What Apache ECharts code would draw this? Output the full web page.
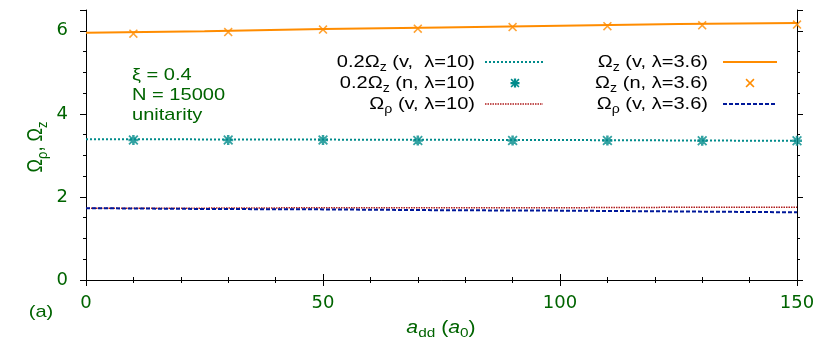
<!DOCTYPE html>
<html>
<head>
<meta charset="utf-8">
<script src="https://cdn.jsdelivr.net/npm/echarts@6/dist/echarts.min.js"></script>
<style>
    html, body { margin: 0; padding: 0; background: #fff; }
    #chart { width: 830px; height: 356px; }
</style>
</head>
<body>
<div id="chart"></div>
<script>
// lines (v) are read at these a_dd values, points (n) at the others
const xLine = [0, 25, 50, 75, 100, 125, 150];
const xPoints = [10, 30, 50, 70, 90, 110, 130, 150];

const tealLine = [3.39, 3.385, 3.38, 3.375, 3.37, 3.36, 3.35];
const tealPoints = [3.37, 3.37, 3.37, 3.36, 3.36, 3.36, 3.35, 3.35];
const redLine = [1.73, 1.73, 1.74, 1.74, 1.74, 1.75, 1.75];
const orangeLine = [5.95, 5.99, 6.04, 6.08, 6.12, 6.16, 6.19];
const orangePoints = [5.93, 5.97, 6.03, 6.05, 6.09, 6.11, 6.13, 6.15];
const blueLine = [1.73, 1.71, 1.70, 1.68, 1.67, 1.65, 1.63];

const xTicks = [0, 50, 100, 150];
const yTicks = [0, 2, 4, 6];

const green = '#006400';
const teal = '#008b8b';
const orange = '#ff8c00';
const red = '#b01c1c';
const blue = '#00189a';
const font = '"Liberation Sans", Arial, sans-serif';

const crossPath = 'path://M0,1L1,0L4,3L7,0L8,1L5,4L8,7L7,8L4,5L1,8L0,7L3,4Z';
const starPath = 'path://M0,1L1,0L4,3L7,0L8,1L5,4L8,7L7,8L4,5L1,8L0,7L3,4Z' +
    'M3,0L5,0L5,3L8,3L8,5L5,5L5,8L3,8L3,5L0,5L0,3L3,3Z';

function pairs(xs, ys) {
    return xs.map((x, i) => [x, ys[i]]);
}

function shapePoints(pts, cx, cy, size) {
    const k = size / 8;
    return pts.map(p => [cx + (p[0] - 4) * k, cy + (p[1] - 4) * k]);
}

const crossPts = [[0,1],[1,0],[4,3],[7,0],[8,1],[5,4],[8,7],[7,8],[4,5],[1,8],[0,7],[3,4]];
const plusPts = [[3,0],[5,0],[5,3],[8,3],[8,5],[5,5],[5,8],[3,8],[3,5],[0,5],[0,3],[3,3]];

function label(text, x, y, color, align, extra, size) {
    const fs = size || 17;
    return Object.assign({
        type: 'text', x: x, y: y, scaleX: 1.18,
        style: {
            text: text, fill: color, fontSize: fs, fontFamily: font,
            align: align, textAlign: align,
            verticalAlign: 'middle', textVerticalAlign: 'middle',
            rich: {
                s: { fontSize: fs - 5, fontFamily: font, fill: color, padding: [11, 0, 0, 0] },
                it: { fontSize: fs, fontFamily: font, fontStyle: 'italic', fill: color },
            },
        },
    }, extra || {});
}

function sampleLine(x1, x2, y, color, width, dash) {
    return {
        type: 'line',
        shape: { x1: x1, y1: y, x2: x2, y2: y },
        style: { stroke: color, lineWidth: width, lineDash: dash },
    };
}

function sampleShape(pts, cx, cy, color) {
    return {
        type: 'polygon',
        shape: { points: shapePoints(pts, cx, cy, 9) },
        style: { fill: color },
    };
}

const tickLabel = {
    color: green, fontSize: 18, fontFamily: '"DejaVu Sans", sans-serif',
};

const chart = echarts.init(document.getElementById('chart'));

chart.setOption({
    animation: false,
    grid: { left: 86, right: 33, top: 10, bottom: 76 },
    xAxis: [
        {
            type: 'value', position: 'bottom', min: 0, max: 150, interval: 50,
            axisLine: { lineStyle: { color: '#000' } },
            axisTick: { length: 6, lineStyle: { color: '#000' } },
            minorTick: { show: true, splitNumber: 5, length: 3, lineStyle: { color: '#000' } },
            splitLine: { show: false },
            axisLabel: Object.assign({ margin: 14 }, tickLabel, {
                formatter: v => xTicks.includes(v) ? String(v) : '',
            }),
        },
        {
            type: 'value', position: 'top', min: 0, max: 150, interval: 50,
            axisLine: { lineStyle: { color: '#000' } },
            axisTick: { length: 6, lineStyle: { color: '#000' } },
            minorTick: { show: true, splitNumber: 5, length: 3, lineStyle: { color: '#000' } },
            splitLine: { show: false },
            axisLabel: { show: false },
        },
    ],
    yAxis: [
        {
            type: 'value', position: 'left', min: 0, max: 6.5, interval: 2,
            axisLine: { show: true, lineStyle: { color: '#000' } },
            axisTick: { show: true, length: 6, lineStyle: { color: '#000' } },
            splitLine: { show: false },
            axisLabel: Object.assign({ margin: 18 }, tickLabel, {
                formatter: v => yTicks.includes(v) ? String(v) : '',
            }),
        },
        {
            type: 'value', position: 'left', min: 0, max: 6.5, interval: 0.5,
            axisLine: { show: false },
            axisTick: { show: true, length: 3, lineStyle: { color: '#000' } },
            splitLine: { show: false },
            axisLabel: { show: false },
        },
        {
            type: 'value', position: 'right', min: 0, max: 6.5, interval: 2,
            axisLine: { show: true, lineStyle: { color: '#000' } },
            axisTick: { show: true, length: 6, lineStyle: { color: '#000' } },
            splitLine: { show: false },
            axisLabel: { show: false },
        },
        {
            type: 'value', position: 'right', min: 0, max: 6.5, interval: 0.5,
            axisLine: { show: false },
            axisTick: { show: true, length: 3, lineStyle: { color: '#000' } },
            splitLine: { show: false },
            axisLabel: { show: false },
        },
    ],
    series: [
        {
            name: 'teal line', type: 'line', data: pairs(xLine, tealLine),
            showSymbol: false, lineStyle: { color: teal, width: 2, type: [2, 2] },
        },
        {
            name: 'red line', type: 'line', data: pairs(xLine, redLine),
            showSymbol: false, lineStyle: { color: red, width: 1.5, type: [1.5, 1] },
        },
        {
            name: 'blue line', type: 'line', data: pairs(xLine, blueLine),
            showSymbol: false, lineStyle: { color: blue, width: 2, type: [4, 2] },
        },
        {
            name: 'orange line', type: 'line', data: pairs(xLine, orangeLine),
            showSymbol: false, lineStyle: { color: orange, width: 2 },
        },
        {
            name: 'teal points', type: 'scatter', data: pairs(xPoints, tealPoints),
            symbol: starPath, symbolSize: 10, itemStyle: { color: teal },
        },
        {
            name: 'orange points', type: 'scatter', data: pairs(xPoints, orangePoints),
            symbol: crossPath, symbolSize: 9, itemStyle: { color: orange },
        },
    ],
    graphic: [
        // legend, column 1
        label('0.2Ω{s|z} (v,  λ=10)', 475, 62, '#000', 'right'),
        label('0.2Ω{s|z} (n, λ=10)', 475, 83, '#000', 'right'),
        label('Ω{s|ρ} (v, λ=10)', 475, 104, '#000', 'right'),
        sampleLine(485, 543, 62, teal, 2, [2, 2]),
        sampleShape(crossPts, 515, 83, teal),
        sampleShape(plusPts, 515, 83, teal),
        sampleLine(485, 543, 104, red, 1.5, [1.5, 1]),
        // legend, column 2
        label('Ω{s|z} (v, λ=3.6)', 708, 62, '#000', 'right'),
        label('Ω{s|z} (n, λ=3.6)', 708, 83, '#000', 'right'),
        label('Ω{s|ρ} (v, λ=3.6)', 708, 104, '#000', 'right'),
        sampleLine(723, 777, 62, orange, 2, null),
        sampleShape(crossPts, 750, 83, orange),
        sampleLine(723, 777, 104, blue, 2, [4, 2]),
        // parameters
        label('ξ = 0.4', 132, 75, green, 'left'),
        label('N = 15000', 132, 95, green, 'left'),
        label('unitarity', 132, 115, green, 'left'),
        // axis titles and panel tag
        label('Ω{s|ρ}, Ω{s|z}', 36, 147, green, 'center', { rotation: Math.PI / 2, scaleX: 1, scaleY: 1.18 }, 18),
        label('{it|a}{s|dd} ({it|a}{s|0})', 441, 328, green, 'center', null, 18),
        label('(a)', 41, 312, green, 'center'),
    ],
});
</script>
</body>
</html>
